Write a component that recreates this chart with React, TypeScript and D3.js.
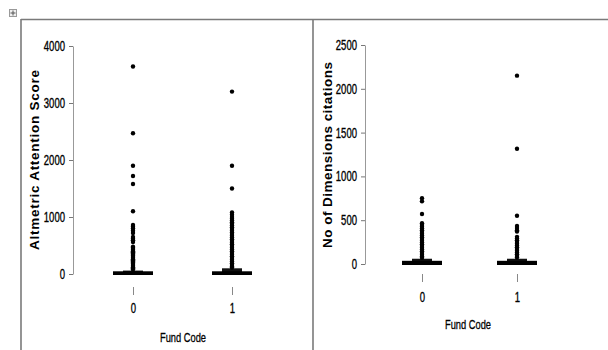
import React, { useRef, useEffect } from "react";
import * as d3 from "d3";

// categories and ticks
const fundCodes = ["0", "1"];
const altTicks = [0, 1000, 2000, 3000, 4000];
const citTicks = [0, 500, 1000, 1500, 2000, 2500];

// box summaries: [q1, q3, whisker top] per fund code
const altBox0 = [0, 30, 60];
const altBox1 = [0, 30, 100];
const citBox0 = [0, 25, 60];
const citBox1 = [0, 25, 60];

// outliers
const altOut0 = [3640, 2470, 1900, 1720, 1580, 1100, 860, 830, 800, 760, 720, 650, 620, 590, 560,
  480, 460, 440, 420, 400, 380, 360, 340, 320, 300, 280, 260, 240, 220, 200, 180, 160, 140, 120, 100, 80];
const altOut1 = [3200, 1900, 1500, 1080, 1040, 1000, 970, 940, 910, 880, 850, 820, 790, 760, 730, 700,
  670, 640, 610, 580, 550, 520, 490, 460, 430, 400, 370, 340, 310, 280, 250, 220, 190, 160, 130, 115];
const citOut0 = [750, 715, 570, 465, 445, 425, 405, 385, 365, 345, 325, 305, 285, 265, 245, 225, 205,
  185, 165, 145, 125, 105, 85, 70];
const citOut1 = [2150, 1315, 550, 435, 410, 385, 370, 310, 290, 270, 250, 230, 210, 190, 170, 150, 130,
  110, 90, 75];

export default function App() {
  const ref = useRef<SVGSVGElement>(null);

  useEffect(() => {
    const svg = d3.select(ref.current);
    svg.selectAll("*").remove();

    const sans = "'Liberation Sans', Arial, sans-serif";
    const squeeze = 0.68; // narrow look for the tick labels

    // frame
    const frame = svg.append("g").attr("stroke", "#7a7a7a").attr("stroke-width", 1.6).attr("fill", "none");
    frame.append("line").attr("x1", 21).attr("x2", 608).attr("y1", 19.5).attr("y2", 19.5);
    frame.append("line").attr("x1", 21).attr("x2", 21).attr("y1", 19).attr("y2", 350);
    frame.append("line").attr("x1", 313).attr("x2", 313).attr("y1", 19).attr("y2", 350);
    const icon = svg.append("g");
    icon.append("rect").attr("x", 9.5).attr("y", 9.5).attr("width", 7).attr("height", 7)
      .attr("fill", "#eee").attr("stroke", "#999");
    icon.append("path").attr("d", "M13,10.5V15.5M10.5,13H15.5").attr("stroke", "#555").attr("stroke-width", 1);

    const panels = [
      {
        title: "Altmetric Attention Score", titleLen: 180, titleX: 35, titleY: 160,
        ticks: altTicks, max: 4000, yRange: [274, 46], axisX: 73, xRange: [133, 232],
        xTickY: 287, xPad: 8, fundY: 338, fundX: 183,
        boxes: [altBox0, altBox1], outs: [altOut0, altOut1],
      },
      {
        title: "No of Dimensions citations", titleLen: 186, titleX: 328, titleY: 155,
        ticks: citTicks, max: 2500, yRange: [264, 45], axisX: 365, xRange: [422, 517],
        xTickY: 274, xPad: 10, fundY: 325, fundX: 468,
        boxes: [citBox0, citBox1], outs: [citOut0, citOut1],
      },
    ];

    panels.forEach(p => {
      const y = d3.scaleLinear().domain([0, p.max]).range(p.yRange);
      const x = d3.scalePoint().domain(fundCodes).range(p.xRange);
      const g = svg.append("g");

      const ya = g.append("g")
        .attr("transform", `translate(${p.axisX},0)`)
        .call(d3.axisLeft(y).tickValues(p.ticks).tickSize(4).tickSizeOuter(0).tickPadding(4).tickFormat(d3.format("d")));
      ya.select(".domain").attr("stroke", "#999");
      ya.selectAll(".tick line").attr("stroke", "#777");
      ya.selectAll("text").attr("font-family", sans).attr("font-size", 14).attr("fill", "#000")
        .attr("stroke", "#000").attr("stroke-width", 0.35)
        .attr("x", -8 / squeeze).attr("transform", `scale(${squeeze},1)`);

      const xa = g.append("g")
        .attr("transform", `translate(0,${p.xTickY})`)
        .call(d3.axisBottom(x).tickSize(8).tickPadding(p.xPad));
      xa.select(".domain").remove();
      xa.selectAll(".tick line").attr("stroke", "#888");
      xa.selectAll("text").attr("font-family", sans).attr("font-size", 14).attr("fill", "#000")
        .attr("stroke", "#000").attr("stroke-width", 0.35)
        .attr("transform", `scale(${squeeze},1)`);

      g.append("text")
        .attr("x", p.fundX).attr("y", p.fundY)
        .attr("text-anchor", "middle").attr("dominant-baseline", "middle")
        .attr("font-family", sans).attr("font-size", 13.5)
        .attr("stroke", "#000").attr("stroke-width", 0.3)
        .attr("textLength", 46).attr("lengthAdjust", "spacingAndGlyphs")
        .text("Fund Code");

      g.append("text")
        .attr("transform", `translate(${p.titleX},${p.titleY}) rotate(-90)`)
        .attr("text-anchor", "middle").attr("dominant-baseline", "middle")
        .attr("font-family", sans).attr("font-weight", "bold")
        .attr("font-size", 13.5).attr("textLength", p.titleLen).attr("lengthAdjust", "spacing")
        .text(p.title);

      fundCodes.forEach((c, i) => {
        const cx = x(c) as number;
        const [q1, q3, wTop] = p.boxes[i];
        // whisker line
        g.append("line").attr("x1", cx).attr("x2", cx).attr("y1", y(q3)).attr("y2", y(wTop))
          .attr("stroke", "#000").attr("stroke-width", 1.5);
        // cap
        g.append("rect").attr("x", cx - 10).attr("width", 20)
          .attr("y", y(wTop)).attr("height", Math.max(2, y(q3) - y(wTop)))
          .attr("fill", "#111");
        // box
        g.append("rect").attr("x", cx - 20).attr("width", 40)
          .attr("y", y(q3) - 1).attr("height", y(q1) - y(q3) + 2)
          .attr("fill", "#000");
        g.append("g").selectAll("circle").data(p.outs[i]).enter().append("circle")
          .attr("cx", cx).attr("cy", d => y(d)).attr("r", 2.2).attr("fill", "#000");
      });
    });
  }, []);

  return (
    <svg ref={ref} width={608} height={350}
      style={{ position: "absolute", left: 0, top: 0, background: "#fff" }} />
  );
}
